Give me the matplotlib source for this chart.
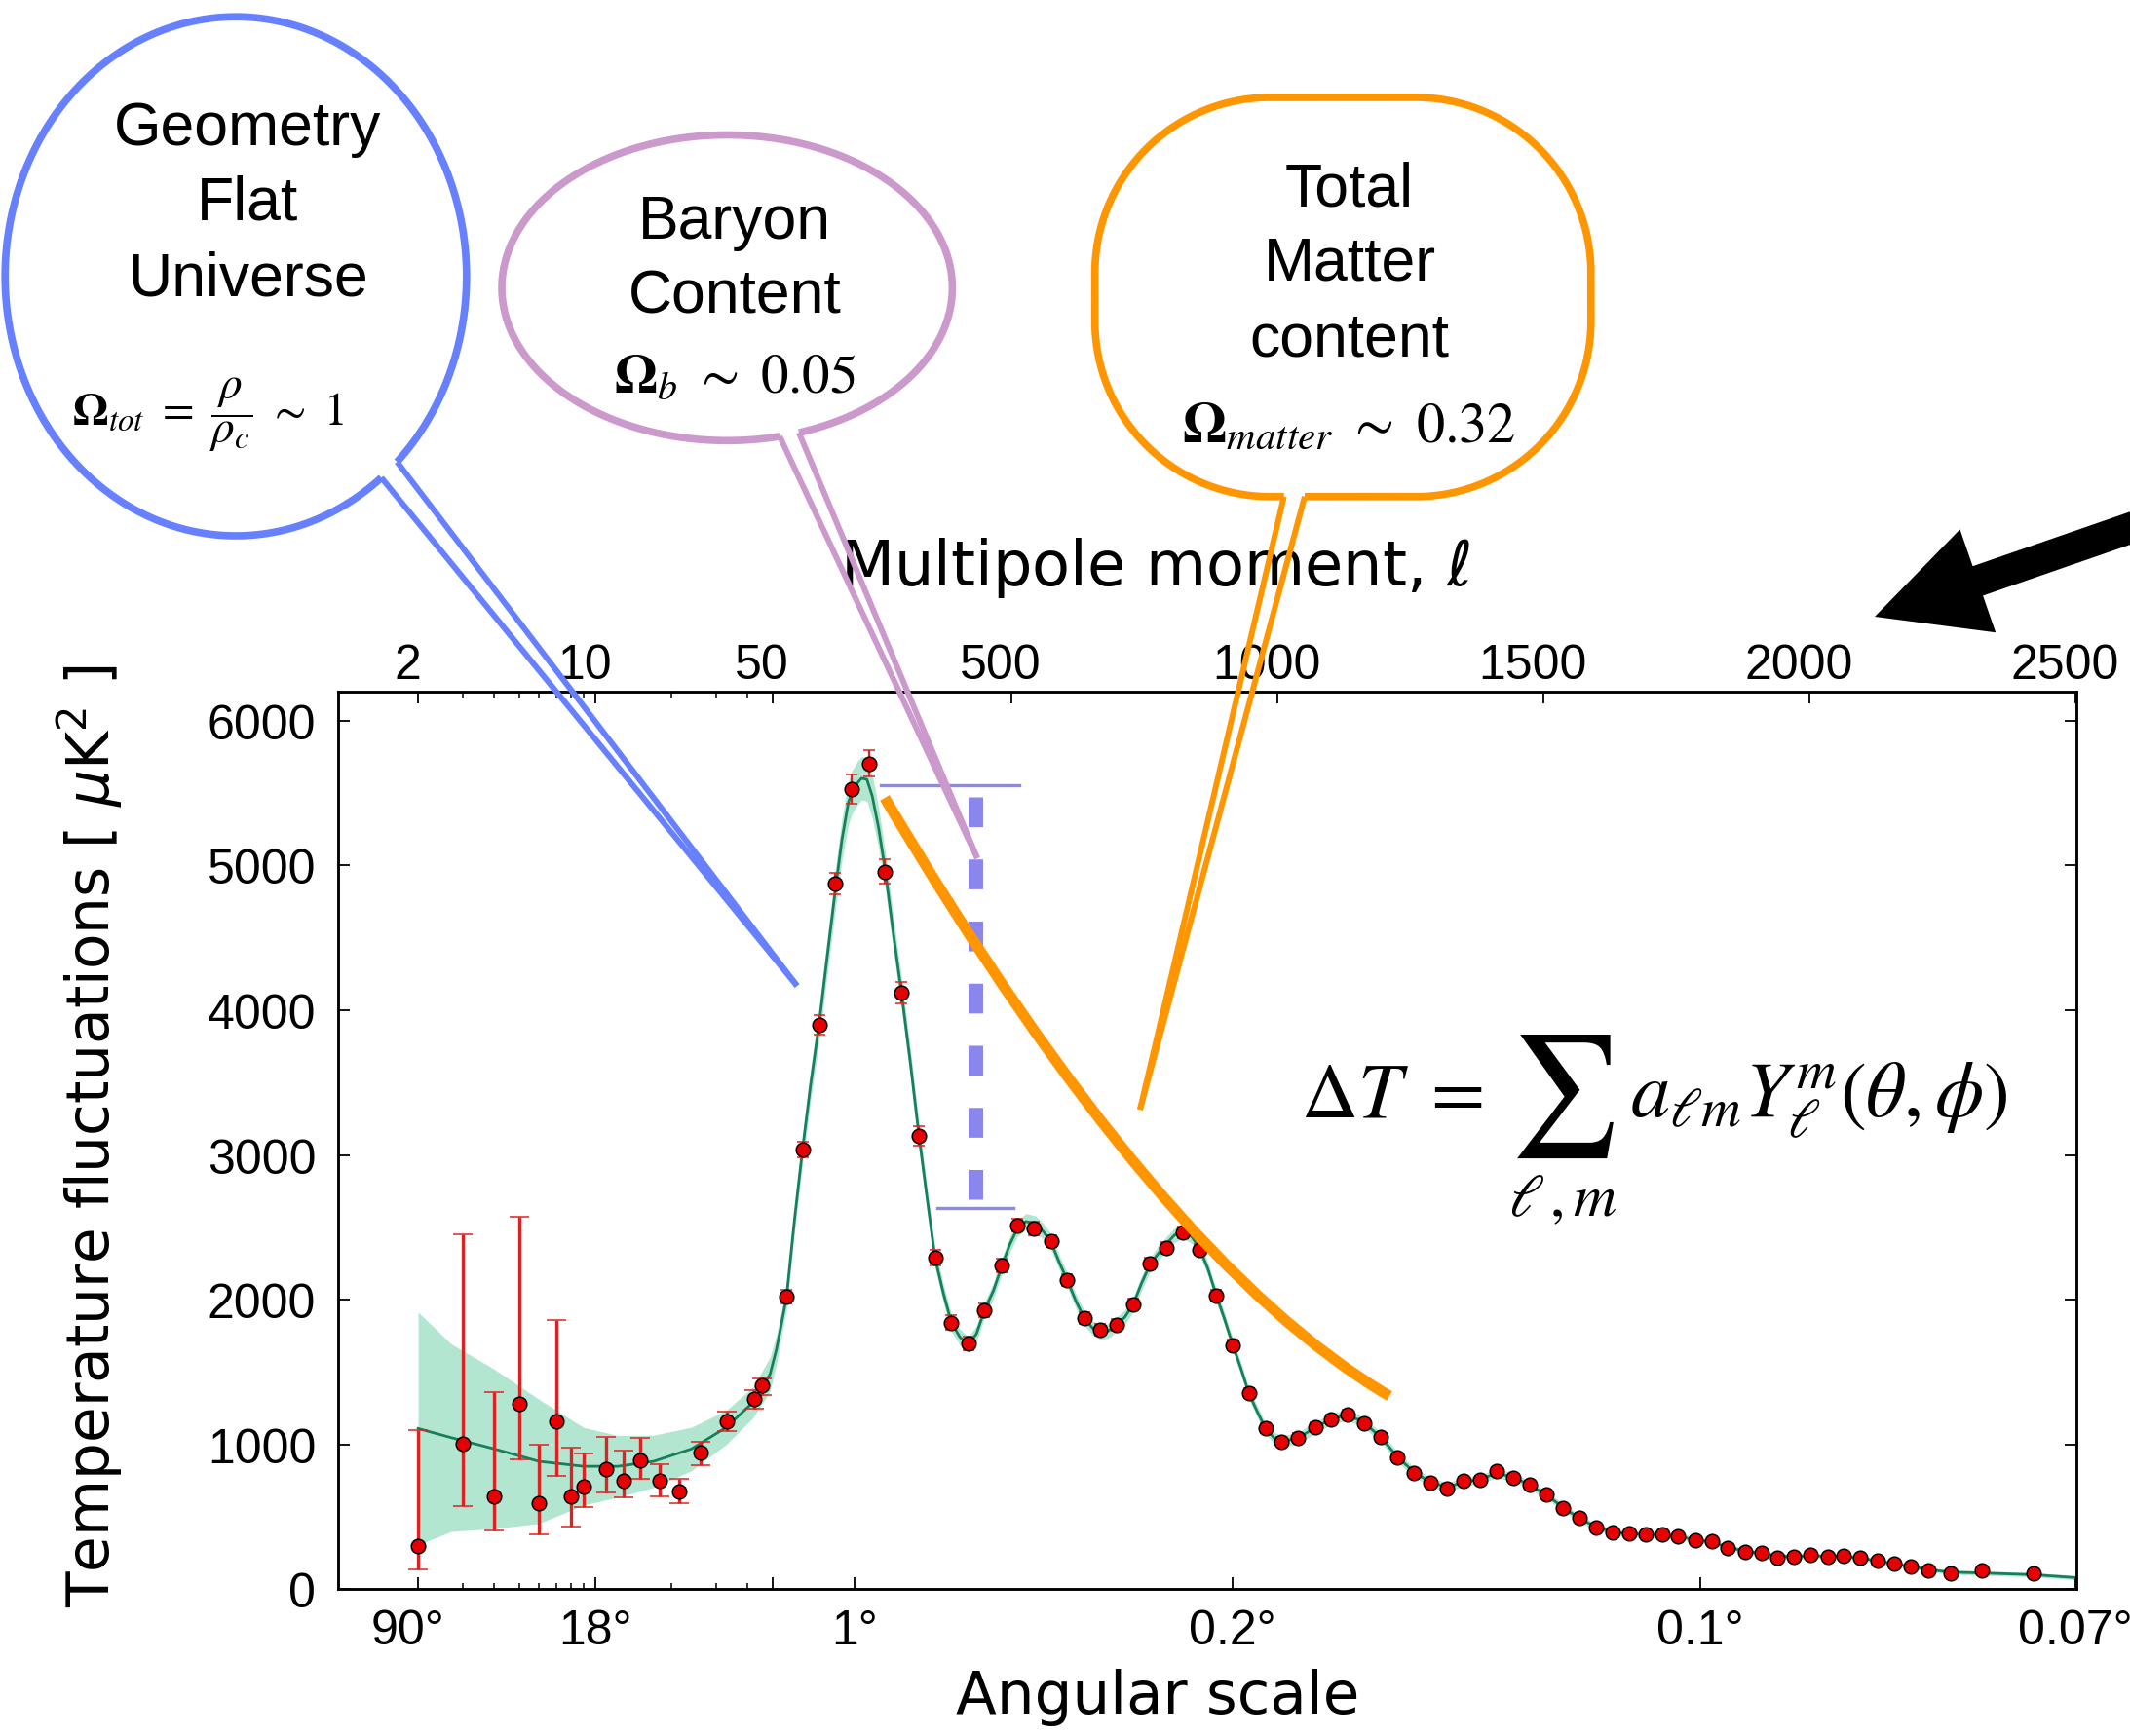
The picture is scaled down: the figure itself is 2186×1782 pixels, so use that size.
import numpy as np
import matplotlib
matplotlib.use("Agg")
import matplotlib.pyplot as plt
from matplotlib.ticker import FixedLocator, FixedFormatter, NullFormatter
from matplotlib.patches import FancyArrow, PathPatch
from matplotlib.path import Path
from matplotlib.transforms import ScaledTranslation

W, H = 2186, 1783

# low multipoles: value with lower / upper end of the error bar
ell_low = [2, 3, 4, 5, 6, 7, 8, 9, 11, 13, 15, 18, 21.5, 26, 33, 42.5, 45.5]
dl_low = [296, 1003, 642, 1281, 594, 1162, 638, 708, 831, 750, 891, 750, 673, 943, 1162, 1313, 1411]
dl_low_min = [139, 572, 404, 896, 382, 782, 430, 565, 667, 633, 761, 640, 593, 858, 1092, 1248, 1342]
dl_low_max = [1098, 2451, 1364, 2572, 996, 1859, 977, 936, 1054, 956, 1046, 862, 761, 1020, 1226, 1377, 1455]

# high multipoles, binned
ell_high = [77, 107, 138, 169, 200, 232, 262, 293, 326, 356,
            387, 419, 449, 482, 511, 542, 574, 605, 637, 667,
            697, 729, 760, 791, 822, 854, 885, 916, 946, 977,
            1008, 1039, 1071, 1101, 1132, 1163, 1194, 1226, 1257, 1288,
            1319, 1350, 1381, 1412, 1443, 1474, 1506, 1537, 1567, 1599,
            1630, 1661, 1692, 1723, 1753, 1785, 1816, 1847, 1879, 1910,
            1940, 1971, 2002, 2034, 2065, 2096, 2128, 2159, 2190, 2224,
            2266, 2325, 2422]
dl_high = [2020, 3037, 3899, 4872, 5529, 5705, 4958, 4121, 3131, 2291,
           1840, 1698, 1926, 2236, 2514, 2493, 2403, 2134, 1872, 1793,
           1827, 1969, 2249, 2357, 2467, 2347, 2029, 1686, 1355, 1114,
           1020, 1044, 1118, 1174, 1209, 1149, 1050, 909, 805, 736,
           698, 750, 754, 815, 770, 723, 654, 560, 490, 427,
           393, 384, 380, 377, 367, 341, 330, 283, 260, 251,
           217, 226, 238, 226, 229, 217, 195, 175, 157, 131,
           109, 131, 109]
err_high = [45, 55, 65, 75, 100, 90, 85, 75, 65, 55,
            50, 45, 45, 45, 45, 45, 42, 42, 40, 40,
            40, 40, 40, 40, 40, 40, 38, 36, 34, 32,
            32, 32, 32, 32, 32, 32, 30, 30, 28, 28,
            28, 28, 28, 28, 27, 27, 26, 26, 25, 25,
            24, 24, 24, 23, 23, 23, 22, 22, 22, 22,
            22, 22, 22, 22, 22, 22, 22, 22, 22, 22,
            22, 24, 26]

# best fit model and its band
curve_ell = [2, 2.7, 4, 6, 9, 12.3, 17, 24, 33, 42, 49,
             58, 67, 77, 92, 107, 122, 138, 153, 169, 181,
             193, 200, 210, 218, 228, 238, 250, 262, 277, 293,
             310, 326, 341, 356, 372, 387, 403, 419, 434, 449,
             466, 482, 497, 511, 527, 545, 560, 574, 590, 605,
             621, 637, 652, 667, 682, 697, 713, 729, 744, 760,
             776, 791, 806, 822, 838, 854, 869, 885, 900, 916,
             931, 946, 962, 977, 993, 1008,
             1039, 1071, 1101, 1132, 1163, 1194, 1226, 1257, 1288, 1319,
             1350, 1381, 1412, 1443, 1474, 1506, 1537, 1567, 1599, 1630,
             1661, 1692, 1723, 1753, 1785, 1816, 1847, 1879, 1910, 1940,
             1971, 2002, 2034, 2065, 2096, 2128, 2159, 2190, 2224, 2266,
             2325, 2422, 2500]
curve_dl = [1110, 1047, 969, 883, 849, 849, 883, 969, 1119, 1291, 1484,
            1657, 1827, 2020, 2557, 3037, 3480, 3899, 4358, 4840, 5175,
            5430, 5507, 5568, 5602, 5594, 5480, 5260, 4980, 4551, 4121,
            3629, 3131, 2706, 2291, 2041, 1840, 1741, 1690, 1764, 1926,
            2063, 2236, 2384, 2492, 2540, 2525, 2470, 2400, 2255, 2134,
            1990, 1872, 1805, 1776, 1784, 1827, 1879, 1969, 2110, 2240,
            2320, 2385, 2445, 2475, 2440, 2350, 2215, 2029, 1870, 1686,
            1527, 1355, 1226, 1114, 1047, 1020,
            1044, 1118, 1174, 1205, 1150, 1050, 912, 808, 738, 705,
            740, 760, 800, 775, 720, 650, 565, 490, 430, 395,
            383, 380, 375, 365, 342, 325, 290, 262, 248, 228,
            226, 230, 228, 226, 215, 195, 175, 158, 135, 118,
            112, 100, 80]
curve_band = [804, 648, 550, 429, 268, 213, 181, 150, 118, 107, 118,
              100, 90, 85, 90, 100, 110, 120, 130, 140, 145,
              150, 150, 150, 150, 150, 150, 140, 130, 120, 110,
              100, 90, 80, 70, 65, 60, 55, 55, 55, 55,
              55, 55, 55, 55, 55, 55, 55, 55, 50, 50,
              50, 50, 50, 50, 50, 50, 50, 50, 50, 50,
              50, 50, 50, 50, 50, 50, 45, 45, 45, 45,
              45, 40, 40, 40, 40, 40,
              40, 40, 38, 38, 36, 35, 35, 33, 32, 31,
              30, 30, 30, 29, 28, 27, 26, 25, 24, 23,
              22, 22, 21, 21, 20, 20, 19, 19, 18, 18,
              18, 17, 17, 17, 16, 16, 16, 15, 15, 15,
              15, 15, 15]

top_ticks = [2, 10, 50, 500, 1000, 1500, 2000, 2500]
top_labels = ['2', '10', '50', '500', '1000', '1500', '2000', '2500']
bottom_ticks = [2, 10, 50, 205, 916, 1794, 2500]
bottom_labels = ['90°', '18°', '', '1°', '0.2°', '0.1°', '0.07°']
minor_ticks = [3, 4, 5, 6, 7, 8, 9, 20, 30, 40]
y_ticks = [0, 1000, 2000, 3000, 4000, 5000, 6000]

# peak height marker (multipole, level)
peak_ell = 432
peak_top, peak_bottom = 5474, 2694
bar_top = (254.6, 515, 5551)
bar_bottom = (361, 503, 2633)


# log below l=50, linear above
def fwd(l):
    l = np.asarray(l, dtype=float)
    lg = 260.0 * np.log10(np.clip(l, 1e-3, None) / 50.0)
    return np.where(l < 50, lg, 0.546 * (l - 50.0))


def inv(u):
    u = np.asarray(u, dtype=float)
    return np.where(u < 0, 50.0 * 10 ** (np.clip(u, -5000, 0) / 260.0), u / 0.546 + 50.0)


plt.rcParams['font.family'] = ['Liberation Sans', 'DejaVu Sans']

fig = plt.figure(figsize=(W / 100, H / 100), dpi=100)
ax = fig.add_axes([346.5 / W, 1 - 1632.3 / H, (2131 - 346.5) / W, (1632.3 - 711) / H])
ax.set_xscale('function', functions=(fwd, inv))
ax.set_xlim(0.962, 2502)
ax.set_ylim(0, 6200)

c_ell = np.array(curve_ell)
c_dl = np.array(curve_dl)
c_band = np.array(curve_band)
ax.fill_between(c_ell, c_dl - c_band, c_dl + c_band, color='#b3e6d1', lw=0, zorder=1)
ax.plot(c_ell, c_dl, color='#17805a', lw=2.0, zorder=2)

lo = np.array(dl_low) - np.array(dl_low_min)
hi = np.array(dl_low_max) - np.array(dl_low)
ax.errorbar(ell_low, dl_low, yerr=[lo, hi], fmt='o', ms=10.5, mfc='#e60000', mec='black',
            mew=1.1, ecolor='#dd2222', elinewidth=2.4, capsize=7, capthick=2.4, zorder=3)
ax.errorbar(ell_high, dl_high, yerr=err_high, fmt='o', ms=10.5, mfc='#e60000', mec='black',
            mew=1.1, ecolor='#dd2222', elinewidth=1.6, capsize=4.5, capthick=1.6, zorder=3)

# baryon peak marker
ax.plot([peak_ell, peak_ell], [peak_top, peak_bottom], color='#8a86ec', lw=10.8,
        linestyle=(0, (2.04, 2.21)), dash_capstyle='butt', zorder=4)
ax.plot(bar_top[:2], [bar_top[2]] * 2, color='#8a88ee', lw=2.4, zorder=4)
ax.plot(bar_bottom[:2], [bar_bottom[2]] * 2, color='#8a88ee', lw=2.4, zorder=4)

ax.xaxis.set_major_locator(FixedLocator(bottom_ticks))
ax.xaxis.set_major_formatter(FixedFormatter(bottom_labels))
ax.xaxis.set_minor_locator(FixedLocator(minor_ticks))
ax.xaxis.set_minor_formatter(NullFormatter())
ax.set_yticks(y_ticks)
ax.tick_params(axis='x', which='both', direction='in', top=False, bottom=True, labelsize=36, pad=14)
ax.tick_params(axis='y', which='both', direction='in', left=True, right=True, labelsize=36, pad=16)
ax.tick_params(which='major', length=8.5, width=1.3)
ax.tick_params(which='minor', length=4.3, width=1.1)
for s in ax.spines.values():
    s.set_linewidth(1.8)

ax2 = ax.twiny()
ax2.set_xscale('function', functions=(fwd, inv))
ax2.set_xlim(0.962, 2502)
ax2.xaxis.set_major_locator(FixedLocator(top_ticks))
ax2.xaxis.set_major_formatter(FixedFormatter(top_labels))
ax2.xaxis.set_minor_locator(FixedLocator(minor_ticks))
ax2.xaxis.set_minor_formatter(NullFormatter())
ax2.tick_params(axis='x', which='both', direction='in', top=True, bottom=False,
                labeltop=True, labelbottom=False, labelsize=36, pad=3)
ax2.tick_params(which='major', length=8.5, width=1.3)
ax2.tick_params(which='minor', length=4.3, width=1.1)
for s in ax2.spines.values():
    s.set_linewidth(1.8)

ax2.set_xlabel('Multipole moment, $\\ell$', fontsize=46, fontfamily='DejaVu Sans', va='baseline')
ax2.xaxis.set_label_coords(0.4699, 1.1194)
ax.set_xlabel('Angular scale', fontsize=44, fontfamily='DejaVu Sans', va='baseline')
ax.xaxis.set_label_coords(0.4716, -0.1375)
ax.set_ylabel('Temperature fluctuations [ $\\mu$K$^2$ ]', fontsize=43, fontfamily='DejaVu Sans', va='center')
ax.yaxis.set_label_coords(-0.1426, 0.5061)

# the top labels sit a little left of their ticks in the original
fig.canvas.draw()
shift = ScaledTranslation(-11 / 100, 0, fig.dpi_scale_trans)
for t in ax2.xaxis.get_major_ticks():
    t.label2.set_transform(t.label2.get_transform() + shift)
first = ax.xaxis.get_major_ticks()[0]
first.label1.set_transform(first.label1.get_transform() + shift)

# ---- annotation layer in pixel coordinates (y down) ----
ov = fig.add_axes([0, 0, 1, 1])
ov.set_xlim(0, W)
ov.set_ylim(H, 0)
ov.axis('off')
ov.patch.set_alpha(0)

BLUE = '#6680ff'
PURPLE = '#cc99cc'
ORANGE = '#ff9600'


def tail(p, q, tip, color):
    ov.plot([p[0], tip[0]], [p[1], tip[1]], color=color, lw=4.3, solid_capstyle='butt')
    ov.plot([q[0], tip[0]], [q[1], tip[1]], color=color, lw=4.3, solid_capstyle='butt')


def ellipse_bubble(cx, cy, a, b, t0, t1, tip, color):
    t = np.radians(np.linspace(t0, t1, 500))
    x = cx + a * np.cos(t)
    y = cy + b * np.sin(t)
    ov.plot(x, y, color=color, lw=5.5, solid_capstyle='butt')
    tail((x[0], y[0]), (x[-1], y[-1]), tip, color)


def rounded_bubble(x0, y0, x1, y1, r, gap, tip, color):
    def arc(cx, cy, a0, a1):
        t = np.radians(np.linspace(a0, a1, 60))
        return list(zip(cx + r * np.cos(t), cy + r * np.sin(t)))
    pts = [(gap[1], y1)]
    pts += arc(x1 - r, y1 - r, 90, 0)
    pts += arc(x1 - r, y0 + r, 0, -90)
    pts += arc(x0 + r, y0 + r, -90, -180)
    pts += arc(x0 + r, y1 - r, 180, 90)
    pts.append((gap[0], y1))
    xs, ys = zip(*pts)
    ov.plot(xs, ys, color=color, lw=5.5, solid_capstyle='butt')
    tail((gap[0], y1), (gap[1], y1), tip, color)


ellipse_bubble(242, 284.6, 236.8, 266.4, 50.9, 405.66, (818, 1013), BLUE)
ellipse_bubble(746.2, 296.4, 231.2, 156.9, 76.5, 431.4, (1003, 882), PURPLE)
rounded_bubble(1123.7, 101, 1632.8, 510.8, 180, (1317.7, 1339), (1170, 1140), ORANGE)

# total matter envelope
env = Path([(908, 820), (1189, 1295), (1426, 1434)], [Path.MOVETO, Path.CURVE3, Path.CURVE3])
ov.add_patch(PathPatch(env, fill=False, edgecolor=ORANGE, lw=8, capstyle='butt'))

# arrow at the top right
ov.add_patch(FancyArrow(2302, 503, -378, 131, width=32, head_width=112, head_length=112,
                        length_includes_head=True, color='black', lw=0))

sans = dict(fontsize=45, fontfamily='Liberation Sans', ha='center', va='baseline')
ov.text(254, 149, 'Geometry', **sans)
ov.text(254, 226, 'Flat', **sans)
ov.text(254, 304, 'Universe', **sans)
ov.text(754, 245, 'Baryon', **sans)
ov.text(754, 321.5, 'Content', **sans)
ov.text(1385, 211, 'Total', **sans)
ov.text(1385, 288, 'Matter', **sans)
ov.text(1385, 365, 'content', **sans)

ov.text(213.5, 426, r'$\mathbf{\Omega}_{tot}\ =\ \dfrac{\rho}{\rho_c}\ \sim\ 1$', fontsize=34,
        math_fontfamily='stix', ha='center', va='center')
ov.text(754, 402, r'$\mathbf{\Omega}_b\ \sim\ 0.05$', fontsize=41,
        math_fontfamily='stix', ha='center', va='baseline')
ov.text(1384, 454.5, r'$\mathbf{\Omega}_{matter}\ \sim\ 0.32$', fontsize=42,
        math_fontfamily='stix', ha='center', va='baseline')

ov.text(1335, 1147, r'$\Delta T\ =$', fontsize=58, math_fontfamily='stix', ha='left', va='baseline')
ov.text(1603, 1126, r'$\sum$', fontsize=89, math_fontfamily='stix', ha='center', va='center')
ov.text(1604, 1233, r'$\ell\,,m$', fontsize=44, math_fontfamily='stix', ha='center', va='center')
ov.text(1673, 1147, r'$a_{\ell m}Y_{\ell}^{m}(\theta, \phi)$', fontsize=58,
        math_fontfamily='stix', ha='left', va='baseline')

fig.savefig('out.png', dpi=100)
